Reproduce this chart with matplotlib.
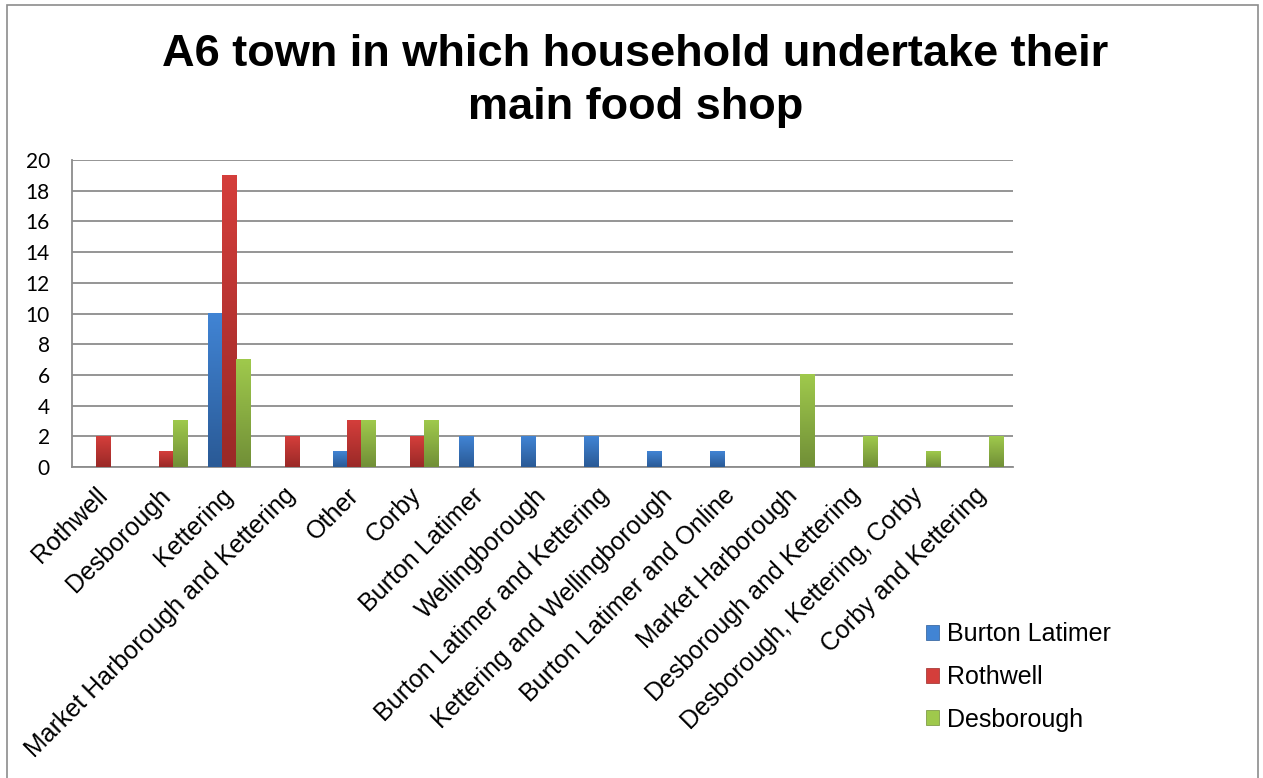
import numpy as np
import matplotlib.pyplot as plt
from matplotlib.patches import Patch, Rectangle
from matplotlib.transforms import ScaledTranslation

# survey counts per town
towns = ["Rothwell", "Desborough", "Kettering", "Market Harborough and Kettering",
         "Other", "Corby", "Burton Latimer", "Wellingborough",
         "Burton Latimer and Kettering", "Kettering and Wellingborough",
         "Burton Latimer and Online", "Market Harborough", "Desborough and Kettering",
         "Desborough, Kettering, Corby", "Corby and Kettering"]
burton_latimer = [0, 0, 10, 0, 1, 0, 2, 2, 2, 1, 1, 0, 0, 0, 0]
rothwell = [2, 1, 19, 2, 3, 2, 0, 0, 0, 0, 0, 0, 0, 0, 0]
desborough = [0, 3, 7, 0, 3, 3, 0, 0, 0, 0, 0, 6, 2, 1, 2]
series_names = ["Burton Latimer", "Rothwell", "Desborough"]
y_ticks = [0, 2, 4, 6, 8, 10, 12, 14, 16, 18, 20]

# (top colour, bottom colour) for the gradient fill
shades = [("#4184d4", "#2a5a96"), ("#d43e3b", "#9a2927"), ("#9fc94c", "#718f37")]

fig = plt.figure(figsize=(12.63, 7.78), dpi=100)
ax = fig.add_axes([72 / 1263, 1 - 467 / 778, 941 / 1263, 307 / 778])

x = np.arange(len(towns))
w = 0.225
for i, (vals, (top, bot)) in enumerate(zip([burton_latimer, rothwell, desborough], shades)):
    cmap = plt.matplotlib.colors.LinearSegmentedColormap.from_list("g%d" % i, [bot, top])
    grad = np.linspace(0, 1, 64).reshape(-1, 1)
    for xi, v in zip(x, vals):
        if v <= 0:
            continue
        left = xi + (i - 1) * w - w / 2
        ax.imshow(grad, extent=(left, left + w, 0, v), origin="lower", cmap=cmap,
                  aspect="auto", zorder=3, interpolation="bicubic")

ax.set_xlim(-0.5, len(towns) - 0.5)
ax.set_ylim(0, 20)
ax.set_yticks(y_ticks)
ax.set_yticklabels([str(t) for t in y_ticks], fontfamily="Lato", fontsize=15)
ax.set_xticks(x)
ax.set_xticklabels(towns, rotation=45, ha="right", va="top", fontfamily="Liberation Sans",
                   fontsize=18)
ax.tick_params(axis="x", length=0, pad=6)
ax.tick_params(axis="y", length=0, pad=16)
shift = ScaledTranslation(0.09, -0.08, fig.dpi_scale_trans)
for lbl in ax.get_xticklabels():
    lbl.set_transform(lbl.get_transform() + shift)
ax.yaxis.grid(True, color="#8c8c8c", linewidth=1.3, zorder=1)
ax.set_axisbelow(True)
for s in ["top", "right"]:
    ax.spines[s].set_visible(False)
for s in ["left", "bottom"]:
    ax.spines[s].set_color("#8c8c8c")
    ax.spines[s].set_linewidth(1.3)

fig.text(0.503, 1 - 55 / 778, "A6 town in which household undertake their",
         ha="center", va="center", fontfamily="Liberation Sans", fontweight="bold", fontsize=32.5)
fig.text(0.503, 1 - 107 / 778, "main food shop",
         ha="center", va="center", fontfamily="Liberation Sans", fontweight="bold", fontsize=32.5)

handles = [Patch(facecolor=top, edgecolor=bot, linewidth=0.5) for top, bot in shades]
fig.legend(handles, series_names, loc="center left", bbox_to_anchor=(903 / 1263, 1 - 677 / 778),
           frameon=False, prop={"family": "Liberation Sans", "size": 18},
           handlelength=0.55, handleheight=0.55, handletextpad=0.3, labelspacing=0.75)

# outer chart frame
fig.patches.append(Rectangle((7 / 1263, -0.05), 1251 / 1263, 1.05 - 5 / 778,
                             transform=fig.transFigure, fill=False,
                             edgecolor="#8c8c8c", linewidth=1.2))

fig.savefig("out.png", dpi=100)
